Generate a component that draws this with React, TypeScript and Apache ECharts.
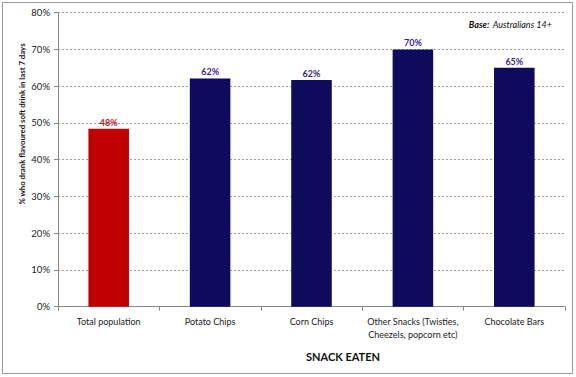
import React, { useEffect, useRef } from "react";
import * as echarts from "echarts";

const categories = [
  "Total population",
  "Potato Chips",
  "Corn Chips",
  "Other Snacks (Twisties,\nCheezels, popcorn etc)",
  "Chocolate Bars",
];
const values = [48.4, 62.1, 61.7, 70.0, 65.0];
const barColors = ["#c00000", "#0e0b5c", "#0e0b5c", "#0e0b5c", "#0e0b5c"];
const labelColors = ["#c0102a", "#3a1f8a", "#3a1f8a", "#3a1f8a", "#3a1f8a"];
const yTicks = [0, 10, 20, 30, 40, 50, 60, 70, 80];

const FONT = "Lato, 'Open Sans', sans-serif";

export default function App() {
  const ref = useRef<HTMLDivElement>(null);
  useEffect(() => {
    document.body.style.margin = "0";
    const chart = echarts.init(ref.current!, null, { renderer: "svg" });
    chart.setOption({
      animation: false,
      backgroundColor: "#ffffff",
      grid: { left: 58, right: 11, top: 12.7, bottom: 70.3 },
      xAxis: {
        type: "category",
        data: categories,
        axisLine: { lineStyle: { color: "#888888", width: 1 } },
        axisTick: { show: true, length: 4, lineStyle: { color: "#888888" } },
        axisLabel: {
          color: "#222222",
          fontFamily: FONT,
          fontSize: 9,
          margin: 8,
          lineHeight: 13,
          interval: 0,
        },
      },
      yAxis: {
        type: "value",
        min: 0,
        max: yTicks[yTicks.length - 1],
        interval: 10,
        axisLine: { show: true, lineStyle: { color: "#888888", width: 1 } },
        axisTick: { show: true, length: 4, lineStyle: { color: "#888888" } },
        axisLabel: {
          formatter: (v: number) => v + "%",
          color: "#222222",
          fontFamily: FONT,
          fontSize: 9.5,
          margin: 8,
        },
        splitLine: {
          show: true,
          lineStyle: { color: "#a0a0a0", type: [2, 2], width: 1 },
        },
      },
      series: [
        {
          type: "bar",
          barWidth: "40%",
          data: values.map((v, i) => ({
            value: v,
            itemStyle: { color: barColors[i] },
            label: { color: labelColors[i] },
          })),
          label: {
            show: true,
            position: "top",
            distance: 2,
            formatter: (p: any) => Math.round(p.value) + "%",
            fontFamily: FONT,
            fontWeight: "bold",
            fontSize: 9,
          },
        },
      ],
      graphic: [
        {
          type: "rect",
          shape: { x: 2.5, y: 2.5, width: 570, height: 371 },
          style: { fill: "none", stroke: "#999999", lineWidth: 1 },
          silent: true,
        },
        {
          type: "text",
          x: 22,
          y: 124,
          rotation: Math.PI / 2,
          style: {
            text: "% who drank flavoured soft drink in last 7 days",
            fontFamily: FONT,
            fontWeight: "bold",
            fontSize: 7.8,
            fill: "#111111",
            align: "center",
            verticalAlign: "middle",
          },
        },
        {
          type: "text",
          x: 343,
          y: 356,
          style: {
            text: "SNACK EATEN",
            fontFamily: FONT,
            fontWeight: "bold",
            fontSize: 11,
            fill: "#111111",
            align: "center",
            verticalAlign: "middle",
          },
        },
        {
          type: "text",
          x: 552,
          y: 24,
          style: {
            text: "{b|Base:} {i|Australians 14+}",
            align: "right",
            verticalAlign: "middle",
            rich: {
              b: {
                fontFamily: FONT,
                fontWeight: "bold",
                fontStyle: "italic",
                fontSize: 9,
                fill: "#111111",
              },
              i: {
                fontFamily: FONT,
                fontStyle: "italic",
                fontSize: 9,
                fill: "#111111",
              },
            },
          },
        },
      ],
    });
    return () => chart.dispose();
  }, []);
  return (
    <div
      ref={ref}
      style={{ position: "absolute", left: 0, top: 0, width: 576, height: 377 }}
    />
  );
}
